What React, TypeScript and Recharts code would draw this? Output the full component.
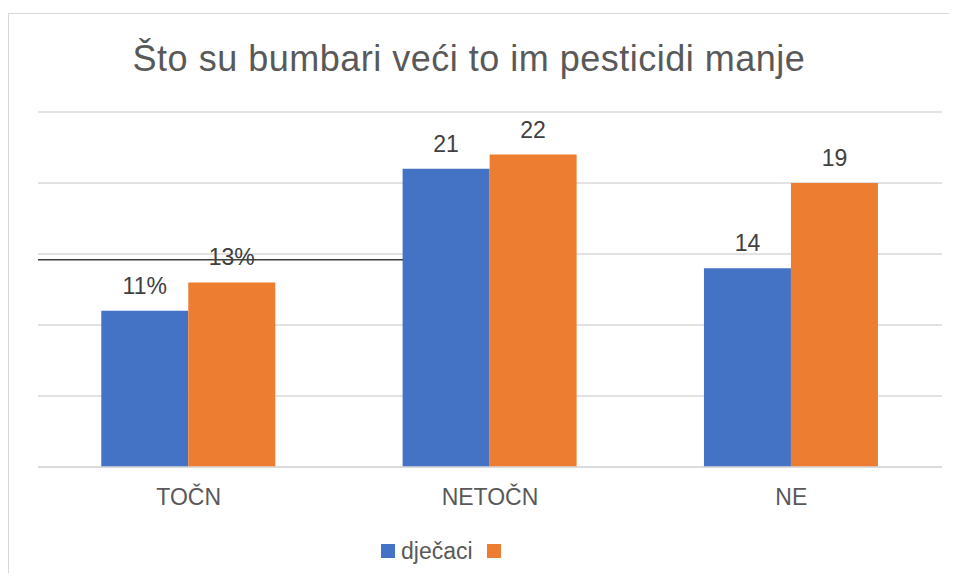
import React from "react";
import { BarChart, Bar, XAxis, YAxis, CartesianGrid, LabelList, Legend, ReferenceLine } from "recharts";

const categories = ["TOČN", "NETOČN", "NE"];
const boysValues = [11, 21, 14];
const secondValues = [13, 22, 20];
const boysLabels = ["11%", "21", "14"];
const secondLabels = ["13%", "22", "19"];
const yTicks = [0, 5, 10, 15, 20, 25];
const blackLineY = 14.6;
const blackLineXEnd = 0.808;

const data = categories.map((c, i) => ({
  name: c,
  boys: boysValues[i],
  second: secondValues[i],
  boysLabel: boysLabels[i],
  secondLabel: secondLabels[i],
}));

const FONT = '"Liberation Sans", Arial, sans-serif';
const BLUE = "#4472C4";
const ORANGE = "#ED7D31";

const renderLegend = () => (
  <div style={{ display: "flex", alignItems: "center", height: 24, paddingLeft: 372, fontFamily: FONT }}>
    <span style={{ display: "inline-block", width: 14, height: 14, background: BLUE, marginRight: 6 }} />
    <span style={{ fontSize: 23, color: "#595959", lineHeight: "24px" }}>dječaci</span>
    <span style={{ display: "inline-block", width: 14, height: 14, background: ORANGE, marginLeft: 14 }} />
  </div>
);

export default function App() {
  return (
    <div style={{ paddingTop: 5 }}>
      <div
        style={{
          position: "relative",
          width: 940,
          height: 559,
          borderTop: "1px solid #d9d9d9",
          borderLeft: "1px solid #d9d9d9",
          fontFamily: FONT,
        }}
      >
        <div
          style={{
            position: "absolute",
            top: 27,
            left: 0,
            width: 920,
            textAlign: "center",
            fontSize: 36,
            lineHeight: "36px",
            letterSpacing: 0.5,
            color: "#595959",
            fontFamily: FONT,
            whiteSpace: "nowrap",
          }}
        >
          Što su bumbari veći to im pesticidi manje
        </div>
        <BarChart
          width={940}
          height={559}
          data={data}
          margin={{ top: 98, right: 7, bottom: 10, left: 29 }}
          barCategoryGap="21%"
          barGap={0}
        >
          <CartesianGrid vertical={false} stroke="#d9d9d9" strokeWidth={1.3} />
          <XAxis
            dataKey="name"
            height={72}
            tickLine={false}
            axisLine={{ stroke: "#d9d9d9", strokeWidth: 1.3 }}
            tickMargin={16}
            tick={{ fill: "#595959", fontSize: 23, fontFamily: FONT }}
            interval={0}
          />
          <XAxis xAxisId="line" type="number" domain={[0, 2]} allowDataOverflow hide />
          <YAxis domain={[0, 25]} ticks={yTicks} hide />
          <Legend verticalAlign="bottom" height={24} content={renderLegend} wrapperStyle={{ left: 0, width: 940 }} />
          <Bar dataKey="boys" name="dječaci" fill={BLUE} isAnimationActive={false}>
            <LabelList dataKey="boysLabel" position="top" offset={17} fill="#404040" fontSize={23} fontFamily={FONT} />
          </Bar>
          <Bar dataKey="second" name=" " fill={ORANGE} isAnimationActive={false}>
            <LabelList dataKey="secondLabel" position="top" offset={17} fill="#404040" fontSize={23} fontFamily={FONT} />
          </Bar>
          <ReferenceLine
            xAxisId="line"
            segment={[
              { x: 0, y: blackLineY },
              { x: blackLineXEnd, y: blackLineY },
            ]}
            stroke="#404040"
            strokeWidth={1.6}
            ifOverflow="visible"
          />
        </BarChart>
      </div>
    </div>
  );
}
